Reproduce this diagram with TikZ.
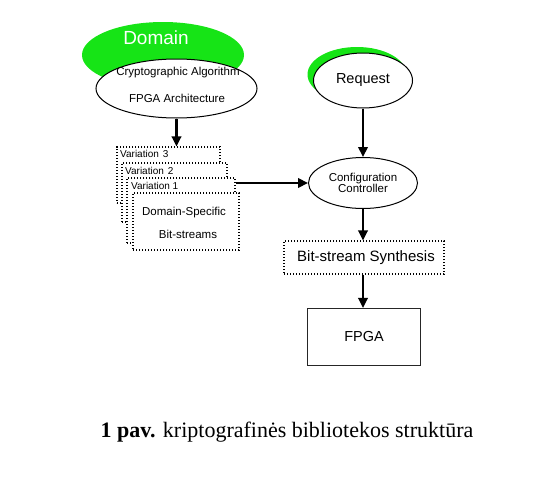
\documentclass[tikz,border=0pt]{standalone}
\usepackage{fontspec}
\setmainfont{Liberation Serif}
\setsansfont{Liberation Sans}
\usetikzlibrary{arrows.meta,shapes.geometric}
\definecolor{domaingreen}{RGB}{22,228,22}
\tikzset{
  arr/.style={line width=2.1pt,-{Triangle[length=10pt,width=9.5pt]}},
  dotbox/.style={draw,fill=white,line width=1.2pt,dash pattern=on 1.2pt off 1.8pt,inner sep=0pt},
  oval/.style={ellipse,draw,fill=white,line width=1pt,inner sep=0pt},
  blob/.style={ellipse,fill=domaingreen,inner sep=0pt},
}
\begin{document}
\begin{tikzpicture}[x=1pt,y=-1pt,font=\sffamily]
            \useasboundingbox (0,0) rectangle (560,490);
            % Domain ellipse with green shadow
            \node[blob,minimum width=162pt,minimum height=66pt] (domg) at (163,55) {};
            \node[text=white,font=\sffamily\fontsize{19}{19}\selectfont] (domt) at (156,38) {Domain};
            \node[oval,minimum width=161pt,minimum height=59pt] (dom) at (176.5,88.5) {};
            \node[font=\sffamily\fontsize{11.5}{12}\selectfont] (alg) at (178,73) {Cryptographic Algorithm};
            \node[font=\sffamily\fontsize{11.5}{12}\selectfont] (arch) at (177,98) {FPGA Architecture};
            % Stacked bit-stream variations
            \node[dotbox,minimum width=103pt,minimum height=56pt] (v3) at (168.5,175) {};
            \node[anchor=west,inner sep=0pt,font=\sffamily\fontsize{10}{10}\selectfont] (v3t) at (120,154) {Variation\hspace{4pt}3};
            \node[dotbox,minimum width=105pt,minimum height=59pt] (v2) at (174.5,192.5) {};
            \node[anchor=west,inner sep=0pt,font=\sffamily\fontsize{10}{10}\selectfont] (v2t) at (125,171) {Variation\hspace{4pt}2};
            \node[dotbox,minimum width=108pt,minimum height=65pt] (v1) at (181,210.5) {};
            \node[anchor=west,inner sep=0pt,font=\sffamily\fontsize{10}{10}\selectfont] (v1t) at (131,186) {Variation 1};
            \node[dotbox,minimum width=106pt,minimum height=57pt] (bits) at (186,221.5) {};
            \node[font=\sffamily\fontsize{11.5}{12}\selectfont] (bitst1) at (184,213) {Domain-Specific};
            \node[font=\sffamily\fontsize{11.5}{12}\selectfont] (bitst2) at (188,234) {Bit-streams};
            % Request ellipse with green shadow
            \node[blob,minimum width=99pt,minimum height=55pt] (reqg) at (357,74.5) {};
            \node[oval,minimum width=99pt,minimum height=55pt,font=\sffamily\fontsize{14.5}{15}\selectfont] (req) at (363,80.5) {Request};
            % Controller, synthesis and FPGA
            \node[oval,minimum width=109pt,minimum height=51pt,align=center,font=\sffamily\fontsize{11.5}{11.5}\selectfont] (cfg) at (363,183) {Configuration\\Controller};
            \node[dotbox,minimum width=160pt,minimum height=33pt,font=\sffamily\fontsize{15}{15}\selectfont] (syn) at (364,257.5) {\hspace{4pt}Bit-stream Synthesis};
            \node[draw,line width=1.2pt,draw=black!85,minimum width=113pt,minimum height=57pt,font=\sffamily\fontsize{14.5}{15}\selectfont] (fpga) at (364,337) {FPGA};
            % Arrows
            \draw[arr] (dom.south) -- (dom.south |- v3.north);
            \draw[arr] (v1.east |- cfg.west) -- (cfg.west);
            \draw[arr] (req.south) -- (cfg.north);
            \draw[arr] (cfg.south) -- (cfg.south |- syn.north);
            \draw[arr] (cfg.south |- syn.south) -- (cfg.south |- fpga.north);
            % Caption
            \node[font=\rmfamily\fontsize{22}{22}\selectfont] (cap) at (287,432) {\textbf{1 pav.} kriptografinės bibliotekos struktūra};
        \end{tikzpicture}
\end{document}
